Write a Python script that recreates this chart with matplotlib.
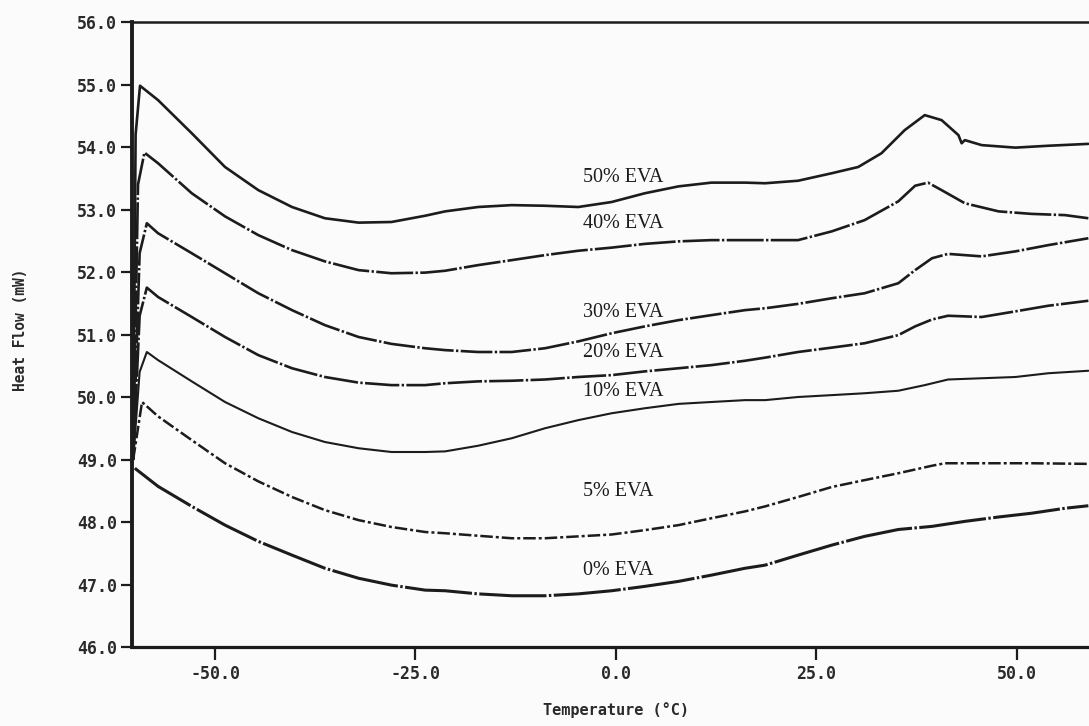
import matplotlib
matplotlib.use("Agg")
import matplotlib.pyplot as plt

plt.rcParams['axes.unicode_minus'] = False

# ---- data ----
x_50 = [-60.2, -59.9, -59.35, -57.1, -52.9, -48.75, -44.6, -40.4, -36.3, -32.1, -28.0, -23.8, -21.3,
        -17.2, -13.0, -8.85, -4.7, -0.54, 3.6, 7.8, 11.9, 16.1, 18.6, 22.7, 26.9, 30.2, 33.1, 36.0,
        38.5, 40.6, 42.7, 43.1, 43.5, 45.6, 49.8, 53.9, 58.9]
y_50 = [49.0, 54.2, 54.98, 54.75, 54.22, 53.68, 53.31, 53.04, 52.86, 52.79, 52.80, 52.90, 52.97,
        53.04, 53.07, 53.06, 53.04, 53.12, 53.26, 53.37, 53.43, 53.43, 53.42, 53.46, 53.58, 53.68,
        53.90, 54.27, 54.51, 54.43, 54.19, 54.06, 54.11, 54.03, 53.99, 54.02, 54.05]

x_40 = [-60.2, -59.6, -58.8, -57.1, -52.9, -48.75, -44.6, -40.4, -36.3, -32.1, -28.0, -23.8, -21.3,
        -17.2, -13.0, -8.85, -4.7, -0.54, 3.6, 7.8, 11.9, 16.1, 18.6, 22.7, 26.9, 31.0, 35.2, 37.3,
        38.9, 40.6, 43.5, 47.7, 51.8, 56.0, 58.9]
y_40 = [49.0, 53.4, 53.91, 53.74, 53.26, 52.89, 52.59, 52.35, 52.17, 52.03, 51.98, 51.99, 52.02,
        52.11, 52.19, 52.27, 52.34, 52.39, 52.45, 52.49, 52.51, 52.51, 52.51, 52.51, 52.65, 52.83,
        53.13, 53.38, 53.43, 53.31, 53.10, 52.97, 52.93, 52.91, 52.86]

x_30 = [-60.2, -59.4, -58.5, -57.1, -52.9, -48.75, -44.6, -40.4, -36.3, -32.1, -28.0, -23.8, -21.3,
        -17.2, -13.0, -8.85, -4.7, -0.54, 3.6, 7.8, 11.9, 16.1, 18.6, 22.7, 26.9, 31.0, 35.2, 37.3,
        39.4, 41.4, 45.6, 49.8, 53.9, 58.9]
y_30 = [49.0, 52.3, 52.78, 52.62, 52.30, 51.98, 51.66, 51.39, 51.15, 50.96, 50.85, 50.78, 50.75,
        50.72, 50.72, 50.78, 50.89, 51.02, 51.13, 51.23, 51.31, 51.39, 51.42, 51.49, 51.58, 51.66,
        51.82, 52.03, 52.22, 52.29, 52.25, 52.33, 52.43, 52.54]

x_20 = [-60.2, -59.4, -58.5, -57.1, -52.9, -48.75, -44.6, -40.4, -36.3, -32.1, -28.0, -23.8, -21.3,
        -17.2, -13.0, -8.85, -4.7, -0.54, 3.6, 7.8, 11.9, 16.1, 18.6, 22.7, 26.9, 31.0, 35.2, 37.3,
        39.4, 41.4, 45.6, 49.8, 53.9, 58.9]
y_20 = [49.0, 51.3, 51.75, 51.60, 51.28, 50.96, 50.67, 50.46, 50.32, 50.23, 50.19, 50.19, 50.22,
        50.25, 50.26, 50.28, 50.32, 50.35, 50.41, 50.46, 50.51, 50.58, 50.63, 50.72, 50.79, 50.86,
        50.99, 51.13, 51.24, 51.30, 51.28, 51.37, 51.46, 51.54]

x_10 = [-60.2, -59.4, -58.5, -57.1, -52.9, -48.75, -44.6, -40.4, -36.3, -32.1, -28.0, -23.8, -21.3,
        -17.2, -13.0, -8.85, -4.7, -0.54, 3.6, 7.8, 11.9, 16.1, 18.6, 22.7, 26.9, 31.0, 35.2, 38.5,
        41.4, 45.6, 49.8, 53.9, 58.9]
y_10 = [49.0, 50.4, 50.72, 50.59, 50.25, 49.92, 49.66, 49.44, 49.28, 49.18, 49.12, 49.12, 49.13,
        49.22, 49.34, 49.50, 49.63, 49.74, 49.82, 49.89, 49.92, 49.95, 49.95, 50.00, 50.03, 50.06,
        50.10, 50.19, 50.28, 50.30, 50.32, 50.38, 50.42]

x_5 = [-60.2, -59.1, -57.1, -52.9, -48.75, -44.6, -40.4, -36.3, -32.1, -28.0, -23.8, -21.3,
       -17.2, -13.0, -8.85, -4.7, -0.54, 3.6, 7.8, 11.9, 16.1, 18.6, 22.7, 26.9, 31.0, 35.2, 39.4,
       41.0, 45.6, 51.8, 58.9]
y_5 = [49.0, 49.92, 49.69, 49.31, 48.94, 48.65, 48.40, 48.19, 48.03, 47.92, 47.84, 47.82,
       47.78, 47.74, 47.74, 47.77, 47.80, 47.87, 47.95, 48.06, 48.17, 48.25, 48.40, 48.56, 48.67,
       48.78, 48.90, 48.94, 48.94, 48.94, 48.93]

x_0 = [-60.0, -57.1, -52.9, -48.75, -44.6, -40.4, -36.3, -32.1, -28.0, -23.8, -21.3,
       -17.2, -13.0, -8.85, -4.7, -0.54, 3.6, 7.8, 11.9, 16.1, 18.6, 22.7, 26.9, 31.0, 35.2, 39.4,
       43.5, 47.7, 51.8, 56.0, 58.9]
y_0 = [48.86, 48.57, 48.25, 47.95, 47.69, 47.47, 47.26, 47.10, 46.99, 46.91, 46.90,
       46.85, 46.82, 46.82, 46.85, 46.90, 46.97, 47.05, 47.15, 47.26, 47.31, 47.47, 47.63, 47.77,
       47.88, 47.93, 48.01, 48.08, 48.14, 48.22, 48.26]

series_labels = ["50% EVA", "40% EVA", "30% EVA", "20% EVA", "10% EVA", "5% EVA", "0% EVA"]
label_x = -4.1
label_y = [53.445, 52.712, 51.275, 50.645, 50.016, 48.416, 47.152]

y_ticks = [46, 47, 48, 49, 50, 51, 52, 53, 54, 55, 56]
y_tick_labels = ["46.0", "47.0", "48.0", "49.0", "50.0", "51.0", "52.0", "53.0", "54.0", "55.0", "56.0"]
x_ticks = [-50, -25, 0, 25, 50]
x_tick_labels = ["-50.0", "-25.0", "0.0", "25.0", "50.0"]

# ---- figure ----
ink = "#1c1c1c"
bg = "#fbfbfb"
fig = plt.figure(figsize=(10.89, 7.26), dpi=100, facecolor=bg)
ax = fig.add_axes([132 / 1089, 79 / 726, (1089 - 132) / 1089, (647 - 22) / 726])
ax.set_facecolor(bg)

series = [
    (x_50, y_50, 1.9, None),
    (x_40, y_40, 1.9, (0, (14, 0.9, 0.9, 0.9))),
    (x_30, y_30, 1.9, (0, (12, 0.9, 0.9, 0.9))),
    (x_20, y_20, 1.9, (0, (13, 0.9, 0.9, 0.9))),
    (x_10, y_10, 1.5, None),
    (x_5, y_5, 1.8, (0, (5, 1.2, 1.2, 1.2))),
    (x_0, y_0, 2.2, (0, (22, 0.8, 0.8, 0.8))),
]
for xs, ys, lw, ls in series:
    line, = ax.plot(xs, ys, color=ink, lw=lw, solid_capstyle='round', solid_joinstyle='round',
                    dash_joinstyle='round')
    if ls is not None:
        line.set_linestyle(ls)

for lab, ly in zip(series_labels, label_y):
    ax.text(label_x, ly, lab, family="Liberation Serif", fontsize=14.5, color=ink,
            ha="left", va="baseline")

ax.set_xlim(-60.35, 58.98)
ax.set_ylim(46, 56)
ax.set_yticks(y_ticks)
ax.set_yticklabels(y_tick_labels)
ax.set_xticks(x_ticks)
ax.set_xticklabels(x_tick_labels)

for t in ax.get_xticklabels() + ax.get_yticklabels():
    t.set_fontfamily("DejaVu Sans Mono")
    t.set_fontweight("bold")
    t.set_fontsize(12)
    t.set_color("#2a2a2a")

ax.tick_params(axis="y", direction="out", length=8, width=1.6, pad=3, colors=ink, labelcolor="#2a2a2a")
ax.tick_params(axis="x", direction="out", length=9, width=1.6, pad=4, colors=ink, labelcolor="#2a2a2a")

ax.spines["right"].set_visible(False)
ax.spines["left"].set_linewidth(2.8)
ax.spines["bottom"].set_linewidth(2.3)
ax.spines["top"].set_linewidth(1.8)
for s in ax.spines.values():
    s.set_color(ink)

fig.text(616 / 1089, 1 - 710 / 726, "Temperature (\u00b0C)", family="DejaVu Sans Mono",
         weight="bold", fontsize=11, color="#2a2a2a", ha="center", va="center")
fig.text(21 / 1089, 1 - 330 / 726, "Heat Flow (mW)", family="DejaVu Sans Mono",
         weight="bold", fontsize=10.5, color="#2a2a2a", ha="center", va="center", rotation=90)

fig.savefig("out.png", dpi=100, facecolor=bg)
